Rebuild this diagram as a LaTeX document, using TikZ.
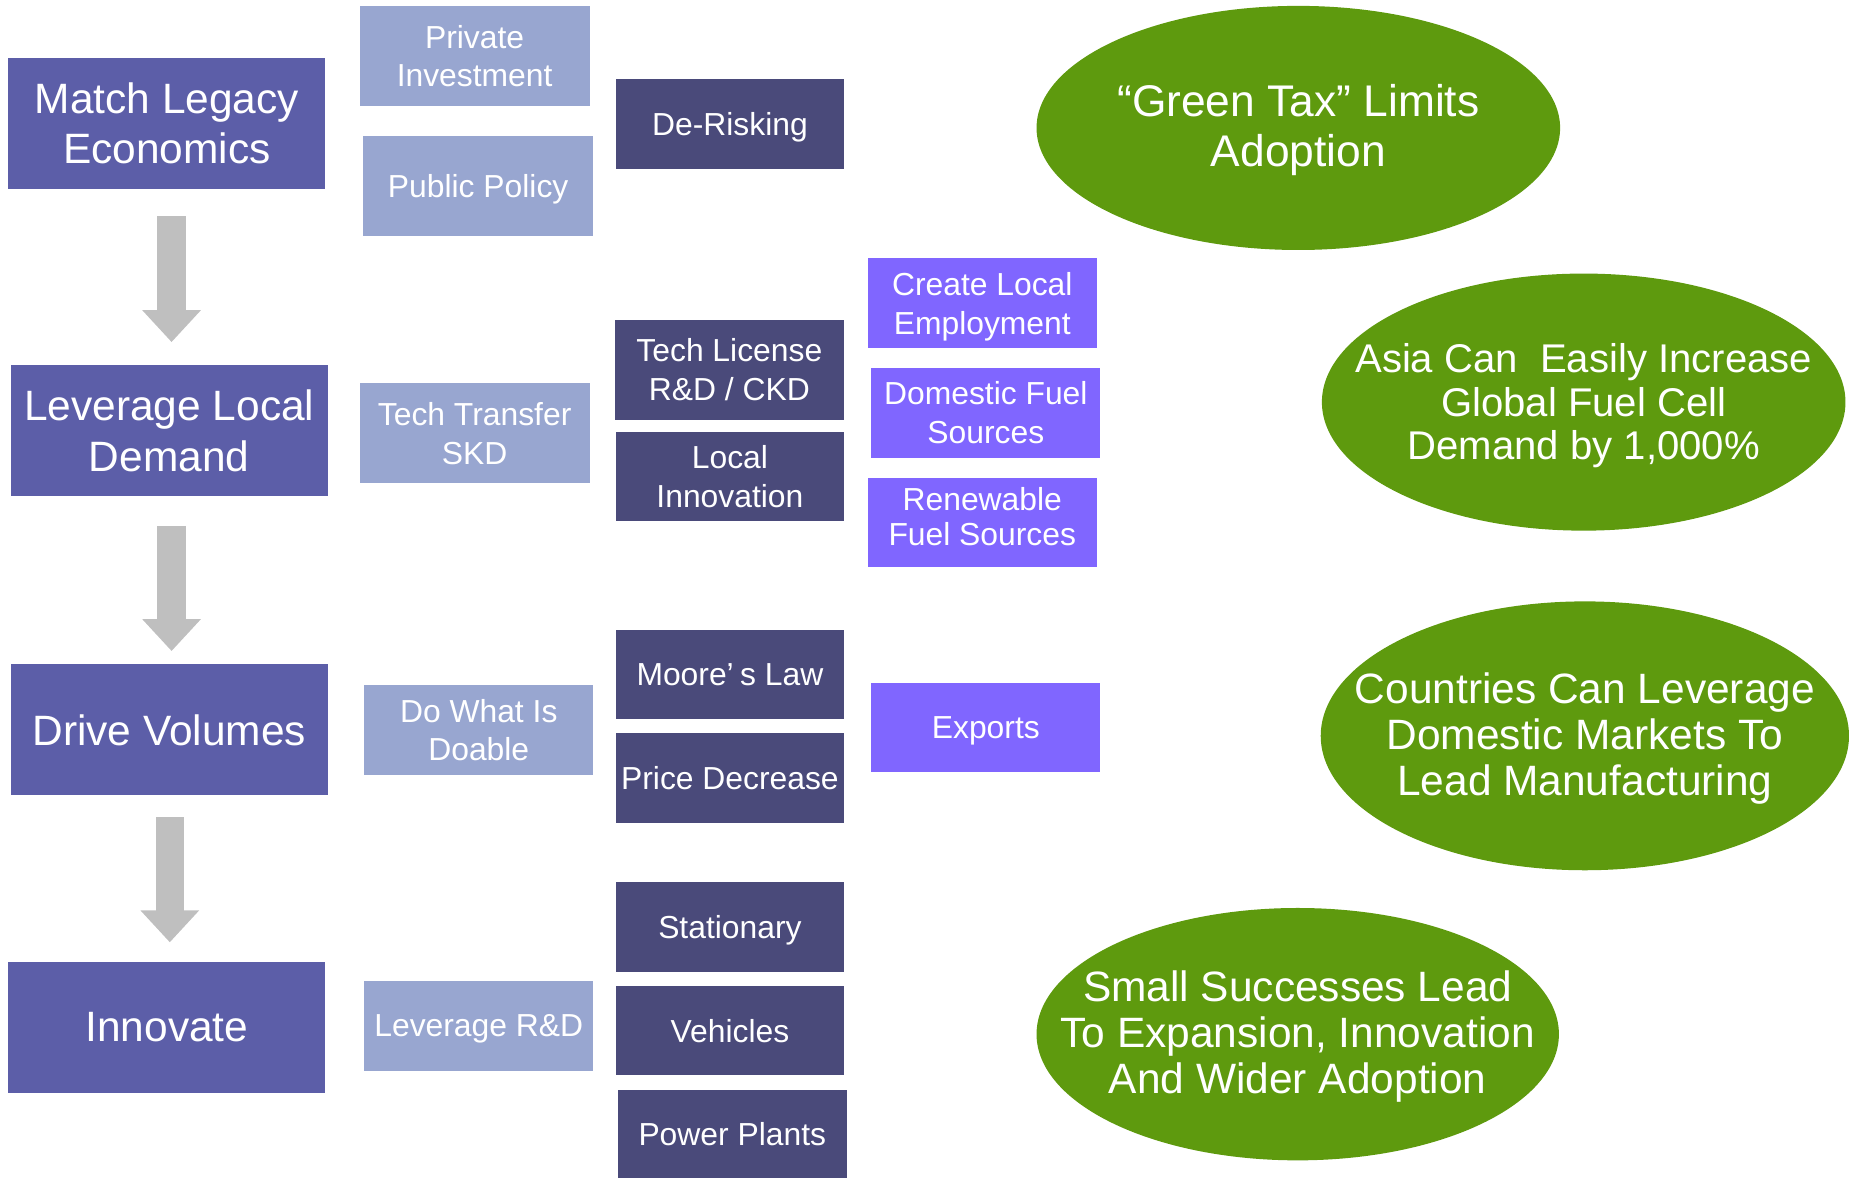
\documentclass[tikz,border=0pt]{standalone}
\usepackage{fontspec}
\setmainfont{Liberation Sans}
\usetikzlibrary{shapes.geometric,arrows.meta}
\definecolor{mainblue}{HTML}{5C5EA8}
\definecolor{lightblue}{HTML}{98A6D0}
\definecolor{darkblue}{HTML}{4A4A7A}
\definecolor{purplebx}{HTML}{8066FF}
\definecolor{greenel}{HTML}{5E9A0E}
\definecolor{arrowgray}{HTML}{BFBFBF}
\tikzset{
  boxbase/.style={rectangle, text=white, align=center, inner sep=0pt, text depth=0pt},
  mainbox/.style={boxbase, fill=mainblue,
    minimum width=134.5pt, minimum height=55.5pt, font=\fontsize{18}{21.5}\selectfont},
  lightbox/.style={boxbase, fill=lightblue,
    minimum width=97.5pt, minimum height=42.5pt, font=\fontsize{13.5}{16.5}\selectfont},
  darkbox/.style={boxbase, fill=darkblue,
    minimum width=97pt, minimum height=38pt, font=\fontsize{13.5}{16.5}\selectfont},
  purplebox/.style={boxbase, fill=purplebx,
    minimum width=97pt, minimum height=38pt, font=\fontsize{13.5}{16.5}\selectfont},
  greenell/.style={ellipse, fill=greenel, inner sep=0pt},
  elltext/.style={text=white, align=center, inner sep=0pt},
  bigarrow/.style={draw=arrowgray, line width=12pt, -{Triangle[width=24pt,length=13.5pt]}}
}
\begin{document}
\begin{tikzpicture}[x=0.5pt,y=-0.5pt]
\useasboundingbox (0,0) rectangle (1568,999);
\clip (0,0) rectangle (1568,999);
% main column
\node[mainbox] (m1) at (141.5,104.5) {Match Legacy\\Economics};
\node[mainbox] (m2) at (143.5,365) {Leverage Local\\Demand};
\node[mainbox] (m3) at (143.5,619) {Drive Volumes};
\node[mainbox] (m4) at (141.5,871) {Innovate};
% arrows
\draw[bigarrow, shorten <=11.5pt, shorten >=9.5pt] ([xshift=2pt]m1.south) -- ([xshift=1pt]m2.north);
\draw[bigarrow, shorten <=12.5pt, shorten >=5.5pt] ([xshift=1pt]m2.south) -- ([xshift=1pt]m3.north);
\draw[bigarrow, shorten <=9pt, shorten >=8pt] ([xshift=0.25pt]m3.south) -- ([xshift=1.25pt]m4.north);
% light column
\node[lightbox] (p1) at (402.5,47.5) {Private\\Investment};
\node[lightbox] (p2) at (405.5,157.5) {Public Policy};
\node[lightbox] (p3) at (402.5,367.5) {Tech Transfer\\SKD};
\node[lightbox, minimum width=97pt, minimum height=38pt] (p4) at (406,619) {Do What Is\\Doable};
\node[lightbox, minimum width=97pt, minimum height=38pt] (p5) at (406,870) {Leverage R\&D};
% dark column
\node[darkbox] (d1) at (619,105) {De-Risking};
\node[darkbox, minimum height=42.5pt] (d2) at (618.5,313.5) {Tech License\\R\&D / CKD};
\node[darkbox] (d3) at (619,404) {Local\\Innovation};
\node[darkbox] (d4) at (619,572) {Moore’\hspace{0.2em}s Law};
\node[darkbox] (d5) at (619,660) {Price Decrease};
\node[darkbox] (d6) at (619,786) {Stationary};
\node[darkbox] (d7) at (619,874) {Vehicles};
\node[darkbox, minimum height=37.5pt] (d8) at (621,961.5) {Power Plants};
% purple column
\node[purplebox] (c1) at (833,257) {Create Local\\Employment};
\node[purplebox] (c2) at (836,350) {Domestic Fuel\\Sources};
\node[purplebox, font=\fontsize{13.5}{15}\selectfont, text depth=5pt] (c3) at (833,443) {Renewable\\Fuel Sources};
\node[purplebox] (c4) at (836,617) {Exports};
% ellipses
\node[greenell, minimum width=222pt, minimum height=103.5pt] (e1) at (1101,108.5) {};
\node[greenell, minimum width=222pt, minimum height=109pt] (e2) at (1343,341) {};
\node[greenell, minimum width=224pt, minimum height=114pt] (e3) at (1344,624) {};
\node[greenell, minimum width=221.5pt, minimum height=107pt] (e4) at (1100.5,877) {};
\node[elltext, font=\fontsize{18.8}{21}\selectfont] (t1) at ([yshift=-1pt]e1.center) {“Green Tax” Limits\\Adoption};
\node[elltext, font=\fontsize{17}{18.5}\selectfont] (t2) at ([yshift=-1.5pt]e2.center) {Asia Can\ \ Easily Increase\\Global Fuel Cell\\Demand by 1,000\%};
\node[elltext, font=\fontsize{18}{19.5}\selectfont] (t3) at ([yshift=-1pt]e3.center) {Countries Can Leverage\\Domestic Markets To\\Lead Manufacturing};
\node[elltext, font=\fontsize{18}{19.5}\selectfont] (t4) at ([yshift=-1pt]e4.center) {Small Successes Lead\\To Expansion, Innovation\\And Wider Adoption};
\end{tikzpicture}
\end{document}
